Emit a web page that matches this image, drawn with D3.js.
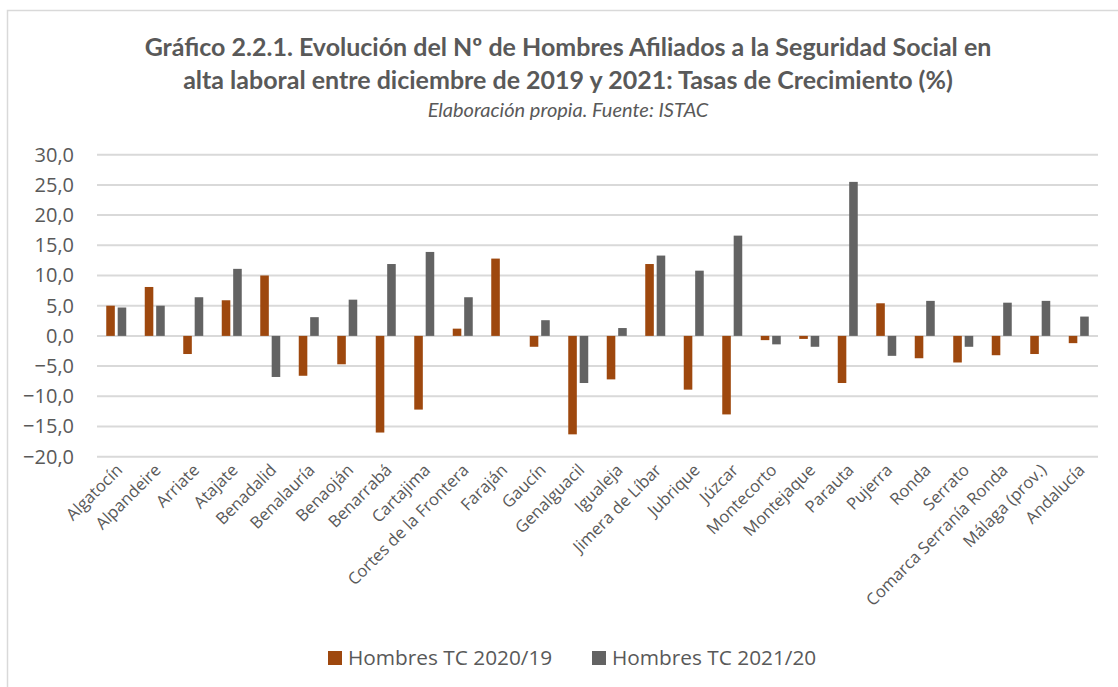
<!DOCTYPE html>
<html><head><meta charset="utf-8">
<script src="https://cdn.jsdelivr.net/npm/d3@7"></script>
<style>body{margin:0;background:#fff}svg{display:block}</style>
</head><body>
<svg id="c" width="1118" height="687"></svg>
<script>
const categories = ["Algatocín","Alpandeire","Arriate","Atajate","Benadalid","Benalauría","Benaoján","Benarrabá","Cartajima","Cortes de la Frontera","Faraján","Gaucín","Genalguacil","Igualeja","Jimera de Líbar","Jubrique","Júzcar","Montecorto","Montejaque","Parauta","Pujerra","Ronda","Serrato","Comarca Serranía Ronda","Málaga (prov.)","Andalucía"];
const tc2020 = [5.0,8.1,-3.0,5.9,10.0,-6.6,-4.7,-16.0,-12.2,1.2,12.8,-1.8,-16.3,-7.2,11.9,-8.9,-13.0,-0.7,-0.5,-7.8,5.4,-3.7,-4.4,-3.2,-3.0,-1.2];
const tc2021 = [4.7,5.0,6.4,11.1,-6.8,3.1,6.0,11.9,13.9,6.4,null,2.6,-7.8,1.3,13.3,10.8,16.6,-1.4,-1.8,25.5,-3.3,5.8,-1.8,5.5,5.8,3.2];
const seriesNames = ["Hombres TC 2020/19","Hombres TC 2021/20"];
const seriesColors = ["#9E480E","#636363"];
const yTicks = [-20,-15,-10,-5,0,5,10,15,20,25,30];
const titleLines = ["Gráfico 2.2.1. Evolución del Nº de Hombres Afiliados a la Seguridad Social en","alta laboral entre diciembre de 2019 y 2021: Tasas de Crecimiento (%)"];
const subtitle = "Elaboración propia. Fuente: ISTAC";

const svg = d3.select("#c");
// chart border
svg.append("rect").attr("x",7.5).attr("y",10.5).attr("width",1200).attr("height",800)
  .attr("fill","#fff").attr("stroke","#d9d9d9").attr("stroke-width",1.5);

const x = d3.scaleBand().domain(categories).range([97,1098]);
const y = d3.scaleLinear().domain([-20,30]).range([456.7,154.7]);
const x1 = d3.scaleBand().domain([0,1]).range([x.bandwidth()/2-10, x.bandwidth()/2+10]).paddingInner(0.25);

// title
const tf = "Lato, 'Open Sans', sans-serif";
svg.selectAll("text.title").data(titleLines).join("text").attr("class","title")
  .attr("x",568).attr("y",(d,i)=>56+i*33).attr("text-anchor","middle")
  .attr("font-family",tf).attr("font-weight","bold").attr("font-size",25).attr("fill","#595959").text(d=>d);
svg.append("text").attr("x",568).attr("y",117).attr("text-anchor","middle")
  .attr("font-family",tf).attr("font-style","italic").attr("font-size",20).attr("fill","#595959").text(subtitle);

// grid
svg.append("g").selectAll("line").data(yTicks).join("line")
  .attr("x1",97).attr("x2",1098).attr("y1",d=>y(d)).attr("y2",d=>y(d))
  .attr("stroke","#d9d9d9").attr("stroke-width",2);

// y axis labels
const yAxis = d3.axisLeft(y).tickValues(yTicks).tickSize(0).tickPadding(0)
  .tickFormat(d=>d3.format(".1f")(d).replace(".",","));
const ya = svg.append("g").attr("transform","translate(74,0)").call(yAxis);
ya.select(".domain").remove();
ya.selectAll("text").attr("font-family","'Open Sans', sans-serif").attr("font-size",20).attr("fill","#595959");

// bars
const series = [tc2020, tc2021];
series.forEach((vals,si)=>{
  svg.append("g").selectAll("rect").data(categories.map((c,i)=>({c,v:vals[i]})).filter(d=>d.v!==null)).join("rect")
    .attr("x",d=>x(d.c)+x1(si)).attr("width",x1.bandwidth())
    .attr("y",d=>y(Math.max(0,d.v))).attr("height",d=>Math.abs(y(d.v)-y(0)))
    .attr("fill",seriesColors[si]);
});

// x labels
const xAxis = d3.axisBottom(x).tickSize(0).tickPadding(0);
const xa = svg.append("g").attr("transform","translate(3,467)").call(xAxis);
xa.select(".domain").remove();
xa.selectAll("text").attr("font-family","'Open Sans', sans-serif").attr("font-size",16.6).attr("fill","#595959")
  .attr("text-anchor","end").attr("dy","0.35em").attr("transform","rotate(-45)");

// legend
const lg = svg.append("g");
const lx = [328, 592];
seriesNames.forEach((n,i)=>{
  lg.append("rect").attr("x",lx[i]).attr("y",651).attr("width",14).attr("height",14).attr("fill",seriesColors[i]);
  lg.append("text").attr("x",lx[i]+20).attr("y",665).attr("font-family","'Open Sans', sans-serif")
    .attr("font-size",20.8).attr("fill","#595959").text(n);
});
</script>
</body></html>
